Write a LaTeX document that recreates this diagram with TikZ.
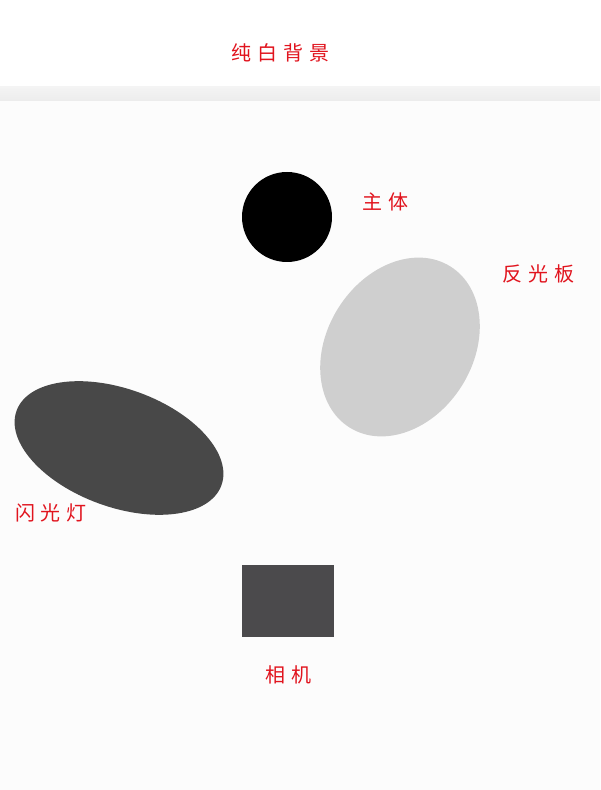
\documentclass[tikz,border=0pt]{standalone}
\usepackage{fontspec}
\newfontfamily\cjk{Noto Sans CJK SC}
\usepackage{tikz}
\usetikzlibrary{shapes.geometric, positioning}
\definecolor{tagred}{HTML}{E1141E}
\definecolor{boardgray}{HTML}{CFCFCF}
\definecolor{flashgray}{HTML}{484848}
\definecolor{camgray}{HTML}{4B4A4C}
\tikzset{
x=1pt, y=1pt, % one unit is one pixel of the layout
tag/.style={text=tagred, font=\cjk\fontsize{20}{20}\selectfont, inner sep=0pt}, % red hand labels
blob/.style={ellipse, inner sep=0pt, draw=none}, % filled ellipses
}
\newcommand{\gap}{\hspace{6pt}}

\begin{document}
\begin{tikzpicture}

            \useasboundingbox (0,0) rectangle (600,790);
            \fill[white] (0,0) rectangle (600,790);
            \fill[gray!2] (0,0) rectangle (600,689);
            \shade[top color=gray!9, bottom color=gray!15] (0,689) rectangle (600,703);

            \node[tag] (title) at (280,737) {纯\gap 白\gap 背\gap 景};

            \node[circle, fill=black, minimum size=90pt, inner sep=0pt] (subject) at (287,573) {};
            \node[blob, fill=boardgray, minimum width=190pt, minimum height=146pt, rotate=58] (board) at (400,443) {};
            \node[blob, fill=flashgray, minimum width=218pt, minimum height=118pt, rotate=-20] (flash) at (119,342) {};
            \node[fill=camgray, minimum width=92pt, minimum height=72pt, inner sep=0pt] (camera) at (288,189) {};

            \node[tag] (subjecttag) at (385,588) {主\gap 体};
            \node[tag] (boardtag) at (538,516) {反\gap 光\gap 板};
            \node[tag] (flashtag) at (51,277) {闪\gap 光\gap 灯};
            \node[tag, below=28pt of camera] (cameratag) {相\gap 机};
        \end{tikzpicture}
\end{document}
